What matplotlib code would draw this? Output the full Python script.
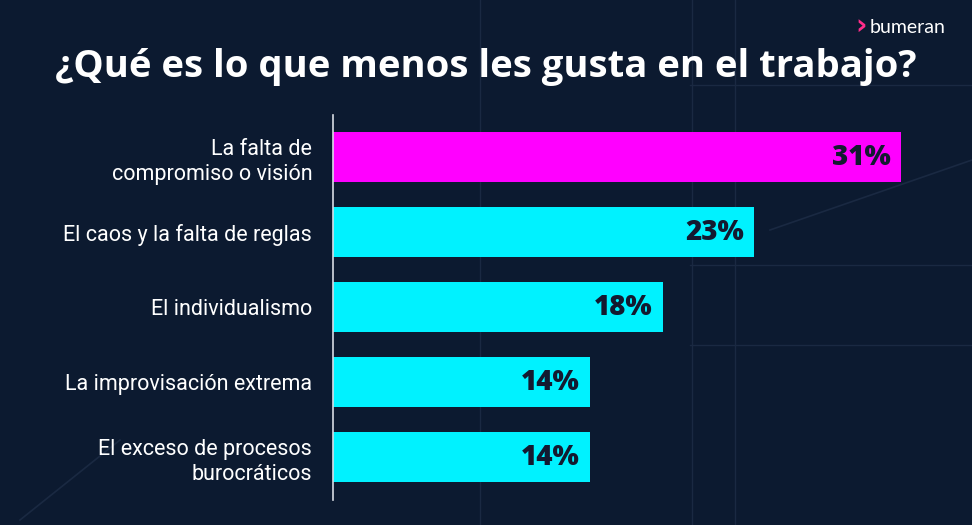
import numpy as np
import matplotlib.pyplot as plt

categories = ["La falta de\ncompromiso o visión", "El caos y la falta de reglas",
              "El individualismo", "La improvisación extrema",
              "El exceso de procesos\nburocráticos"]
values = [31, 23, 18, 14, 14]
labels = ["31%", "23%", "18%", "14%", "14%"]
colors = ["#ff00ff", "#00f2ff", "#00f2ff", "#00f2ff", "#00f2ff"]

bg = "#0c1a30"
fig = plt.figure(figsize=(9.72, 5.25), dpi=100, facecolor=bg)

# faint background lines
deco = fig.add_axes([0, 0, 1, 1])
deco.set_xlim(0, 972)
deco.set_ylim(525, 0)
deco.axis("off")
for xv in [480, 692, 735]:
    deco.plot([xv, xv], [0, 525], color="#1a2942", lw=1)
for yv in [85, 265, 345]:
    deco.plot([690, 972], [yv, yv], color="#1a2942", lw=1)
deco.plot([770, 972], [230, 160], color="#1a2942", lw=1.2)
deco.plot([20, 120], [520, 440], color="#1a2942", lw=1.2)

ax = fig.add_axes([333 / 972, 25 / 525, (960 - 333) / 972, 385 / 525])
ax.set_facecolor("none")
y = np.arange(len(categories))
ax.barh(y, values, height=0.667, color=colors)
ax.set_xlim(0, 31 * (960 - 333) / (901 - 333))
ax.set_ylim(4.57, -0.56)

for yi, v, lab in zip(y, values, labels):
    ax.text(v - 0.55, yi, lab, ha="right", va="center", fontsize=20,
            fontweight="heavy", family="Open Sans", color="#131a30")

ax.set_yticks(y)
ax.set_yticklabels(categories, fontsize=15.5, family="Roboto", color="white",
                   ha="right", linespacing=1.25)
ax.tick_params(axis="y", length=0, pad=15)
ax.set_xticks([])
for s in ["top", "right", "bottom"]:
    ax.spines[s].set_visible(False)
ax.spines["left"].set_color("#d8dce3")
ax.spines["left"].set_linewidth(1.2)

fig.text(0.5, 0.872, "¿Qué es lo que menos les gusta en el trabajo?",
         ha="center", va="center", fontsize=27.5, fontweight="bold",
         family="Open Sans", color="white")

# logo
fig.text(0.895, 0.948, "bumeran", ha="left", va="center", fontsize=14,
         family="Lato", color="white")
fig.text(0.880, 0.950, "›", ha="left", va="center", fontsize=20,
         fontweight="bold", family="DejaVu Sans", color="#ff2d8a")

fig.savefig("out.png", dpi=100, facecolor=bg)
